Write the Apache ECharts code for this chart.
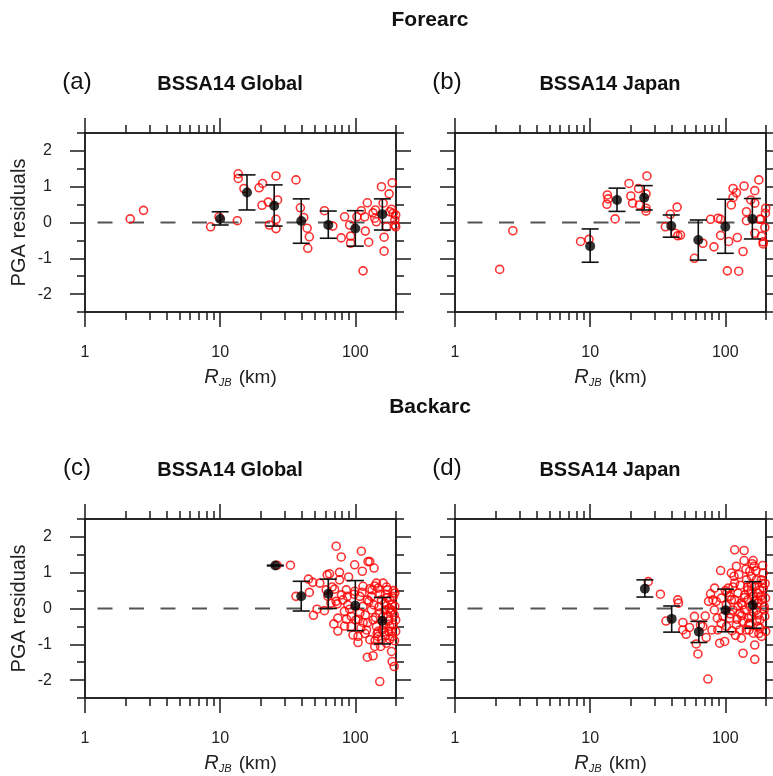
<!DOCTYPE html>
<html>
<head>
<meta charset="utf-8">
<script src="https://cdn.jsdelivr.net/npm/echarts@6/dist/echarts.min.js"></script>
<style>
html, body { margin: 0; padding: 0; background: #fff; }
#chart { width: 773px; height: 776px; }
</style>
</head>
<body>
<div id="chart"></div>
<script>
// tick values
var majorX = [1, 10, 100];
var minorX = [2, 3, 4, 5, 6, 7, 8, 9, 20, 30, 40, 50, 60, 70, 80, 90, 200];
var majorY = [-2, -1, 0, 1, 2];
var minorY = [-2.5, -1.5, -0.5, 0.5, 1.5, 2.5];
var zeroLine = [[200, 0], [1, 0]];

// (a) Forearc, BSSA14 Global
var aR = [2.16, 2.71, 8.5, 9.8, 13.4, 13.6, 13.6, 15.0, 19.4, 20.6, 20.4, 22.7, 23.1, 25.9, 26.6, 25.9, 25.9, 36.4, 39.2, 41.5,
  44.0, 45.7, 44.5, 59.1, 68.2, 78.7, 83.3, 90.8, 92.3, 92.3, 102.8, 110.8, 114.1, 117.3, 118.6, 122.7, 125.6, 135.3, 140.8, 139.3,
  156.1, 160.6, 163.3, 163.3, 170.2, 178.0, 185.3, 187.5, 190.6, 196.0, 199, 199, 180, 196, 143];
var aRes = [0.10, 0.34, -0.12, 0.16, 0.05, 1.36, 1.23, 0.95, 0.97, 1.09, 0.48, 0.57, -0.07, 1.30, 0.63, 0.09, -0.17, 1.19, 0.41, 0.14,
  -0.16, -0.40, -0.72, 0.33, -0.10, -0.43, 0.16, -0.07, -0.38, -0.58, 0.16, 0.33, -1.35, 0.16, -0.24, 0.55, -0.55, 0.27, 0.35, 0.12,
  1.00, 0.54, -0.41, -0.80, -0.12, 0.80, 0.37, 1.11, 0.26, 0.07, 0.21, -0.12, 0.30, -0.07, 0.02];
var aBin = [10, 15.8, 25.1, 39.8, 63.1, 100, 158.5];
var aMean = [0.10, 0.84, 0.47, 0.04, -0.07, -0.17, 0.23];
var aHi = [0.30, 1.33, 1.05, 0.66, 0.32, 0.33, 0.66];
var aLo = [-0.07, 0.35, -0.10, -0.58, -0.44, -0.66, -0.21];

// (b) Forearc, BSSA14 Japan
var bR = [2.14, 2.68, 8.5, 9.8, 13.4, 13.6, 13.3, 15.3, 19.4, 20.0, 20.6, 22.8, 23.1, 26.3, 25.9, 25.9, 25.9, 39.2, 36.0, 44.0,
  42.5, 44.5, 46.6, 59.1, 68.2, 77.8, 82.4, 88.2, 92.3, 92.3, 103.5, 105.9, 110.8, 114.1, 114.1, 120.8, 122.7, 125.6, 135.3, 137.7,
  143.3, 143.3, 154.3, 165.2, 165.2, 165.2, 177.0, 183.2, 185.3, 190.6, 196, 198, 199, 190.6, 180];
var bRes = [-1.31, -0.23, -0.53, -0.47, 0.77, 0.66, 0.51, 0.10, 1.09, 0.74, 0.54, 0.95, 0.49, 1.30, 0.80, 0.40, 0.32, 0.23, -0.12, 0.43,
  -0.30, -0.37, -0.35, -1.00, -0.58, 0.09, -0.68, 0.12, 0.09, -0.36, -1.35, -0.53, 0.49, 0.70, 0.95, 0.83, -0.42, -1.36, -0.81, 1.02,
  0.30, 0.05, 0.63, 0.89, 0.54, -0.30, 1.19, 0.09, -0.38, -0.54, -0.14, 0.26, 0.40, -0.60, 0.09];
var bBin = [10, 15.8, 25.1, 39.8, 63.1, 100, 158.5];
var bMean = [-0.66, 0.63, 0.69, -0.10, -0.49, -0.12, 0.10];
var bHi = [-0.18, 0.96, 1.03, 0.21, 0.07, 0.65, 0.67];
var bLo = [-1.11, 0.31, 0.35, -0.41, -1.05, -0.86, -0.46];

// (c) Backarc, BSSA14 Global
var cR = [26.3, 33.1, 36.4, 45.0, 45.7, 48.5, 49.0, 52.1, 54.6, 59.1, 61.9, 64.4, 62.7, 60.9, 67.4, 70.2, 72.2, 78.7, 76.4, 76.4,
  73.5, 74.3, 69.4, 74.3, 80.9, 83.3, 85.7, 87.3, 89.2, 90.8, 93.4, 98.9, 96.1, 104.7, 104.7, 110.8, 112.7, 114.1, 118.6, 122.7,
  122.7, 124.2, 127.9, 131.5, 135.3, 137.7, 139.3, 139.3, 143.3, 147.5, 151.7, 156.1, 160.6, 165.2, 170.2, 173.0, 177.0, 180.0, 185.3, 187.5,
  193.8, 190.6, 196, 199, 199, 131.5, 135.3, 143.3, 147.5, 151.7, 156.1, 162, 166, 175, 180, 185, 188, 194, 114, 121,
  128, 108, 101, 93, 88, 83, 79, 99, 108, 114, 147.5, 160.6, 180, 196, 154, 170, 185,
  105, 112, 118, 126, 133, 141, 150, 158, 167, 176, 186, 195, 110, 123, 137, 145, 163, 172, 183, 192,
  128, 140, 152, 168, 178, 190, 98, 86, 72, 66];
var cRes = [1.21, 1.21, 0.34, 0.82, 0.45, 0.73, -0.19, -0.02, 0.71, -0.06, 0.94, 0.97, 0.34, 0.52, 0.60, 0.54, 1.74, 1.44, 1.01, 0.80,
  0.13, -0.27, -0.43, -0.63, 0.24, -0.49, 0.52, 0.34, 0.88, -0.02, -0.22, 1.22, -0.74, -0.78, -0.95, 1.60, 1.04, -0.39, -0.18, 0.24,
  -1.36, 1.31, 1.31, 0.34, -1.32, 1.13, 0.63, -1.06, 0.71, -0.64, -2.04, 0.24, -0.22, 0.15, 0.60, 0.52, -0.64, -0.86, -1.20, -1.48,
  -1.62, 0.34, 0.06, -0.64, -0.32, -0.04, -0.32, -0.50, -0.78, -0.13, -0.87, -0.46, -0.04, -0.22, -0.50, -0.04, -0.78, -0.18, 0.06, -0.60,
  -0.87, -0.13, -0.32, -0.50, 0.10, -0.08, 0.38, 0.48, 0.34, 0.62, 0.57, 0.71, 0.24, 0.43, -1.06, -0.97, -0.64,
  -0.30, 0.45, -0.70, 0.20, 0.52, -0.25, 0.05, -0.60, 0.40, -0.35, 0.10, -0.90, -0.55, -0.40, 0.10, -0.70, -0.65, 0.30, -0.10, 0.50,
  0.55, -0.90, 0.40, -0.75, 0.00, -0.45, 0.40, -0.30, 0.20, 0.15];
var cBin = [25.6, 39.8, 63.1, 100, 158.5];
var cMean = [1.20, 0.34, 0.41, 0.08, -0.34];
var cHi = [1.21, 0.76, 0.82, 0.78, 0.31];
var cLo = [1.19, -0.07, 0.00, -0.62, -0.99];

// (d) Backarc, BSSA14 Japan
var dR = [26.9, 33.1, 36.4, 44.5, 45.0, 48.5, 48.5, 51.3, 54.3, 59.1, 60.9, 62.7, 65.6, 68.2, 71.0, 72.2, 74.3, 75.2, 77.8, 79.6,
  83.3, 85.7, 87.3, 90.8, 92.3, 93.4, 96.1, 98.9, 101.7, 107.7, 110.8, 114.1, 117.3, 117.3, 120.8, 120.8, 124.2, 127.9, 131.5, 135.3,
  137.7, 137.7, 139.3, 143.3, 147.5, 151.7, 156.1, 160.6, 163.3, 165.2, 165.2, 170.2, 175.0, 180.0, 185.3, 190.6, 193.8, 198.3, 199,
  117, 124, 131, 139, 147, 152, 156, 161, 165, 170, 175, 180, 185, 191, 196, 128, 135, 143, 152, 161,
  170, 175, 185, 114, 108, 102, 93, 88, 83, 81, 105, 111, 156, 147,
  103, 109, 116, 122, 129, 134, 142, 149, 155, 162, 168, 174, 181, 188, 194, 119, 132, 146, 158, 171,
  183, 197, 112, 126, 138, 150, 164, 177, 189, 100];
var dRes = [0.75, 0.40, -0.35, 0.24, 0.15, -0.39, -0.60, -0.72, -0.53, -0.22, -0.99, -1.27, -0.46, -0.50, -0.21, -0.81, -1.97, 0.20, 0.41, -0.60,
  0.57, 0.20, -0.27, -0.97, 1.06, 0.29, -0.22, -0.92, 0.10, 0.34, 0.99, 0.60, 1.64, 0.71, 1.18, -0.46, 0.06, -0.60, -0.83, -1.25,
  1.62, 1.34, 0.38, 0.80, -0.27, 1.04, 0.63, 1.34, 1.18, -1.02, -1.42, 0.24, -0.18, 0.52, -0.78, 0.99, -0.04, 0.29, -0.64,
  0.24, 0.43, 0.15, -0.04, 0.24, 0.06, -0.22, 0.34, 0.62, -0.04, 0.43, -0.32, 0.24, 0.57, -0.22, -0.13, -0.36, -0.60, -0.41, -0.69,
  0.80, -0.50, 0.80, -0.04, -0.27, -0.50, -0.41, -0.60, -0.04, 0.24, 0.57, 0.24, 0.90, 0.52,
  0.45, -0.15, 0.90, -0.30, 0.65, 0.10, 1.10, -0.45, 0.48, -0.10, 1.05, 0.15, -0.55, 0.70, 0.05, -0.75, -0.20, 0.60, 1.25, -0.35,
  0.35, 0.70, -0.62, 0.95, 0.30, -0.60, 0.20, -0.70, 1.20, 0.50];
var dBin = [25.4, 40.1, 63.7, 100.5, 159.6];
var dMean = [0.55, -0.29, -0.65, -0.05, 0.10];
var dHi = [0.80, 0.07, -0.36, 0.54, 0.75];
var dLo = [0.32, -0.66, -0.95, -0.65, -0.55];

var panels = [
  { r: aR, res: aRes, bin: aBin, mean: aMean, hi: aHi, lo: aLo, left: 85, top: 133, yLabels: true },
  { r: bR, res: bRes, bin: bBin, mean: bMean, hi: bHi, lo: bLo, left: 455, top: 133, yLabels: false },
  { r: cR, res: cRes, bin: cBin, mean: cMean, hi: cHi, lo: cLo, left: 85, top: 519, yLabels: true },
  { r: dR, res: dRes, bin: dBin, mean: dMean, hi: dHi, lo: dLo, left: 455, top: 519, yLabels: false }
];

var font = 'Liberation Sans, Arial, Helvetica, sans-serif';
var lineCol = '#1a1a1a';

var grids = [], xAxes = [], yAxes = [], series = [];

function zip(xs, ys) {
  return xs.map(function (v, i) { return [v, ys[i]]; });
}

panels.forEach(function (p, g) {
  grids.push({ left: p.left, top: p.top, width: 311, height: 179 });
  // x axes: bottom major, bottom minor, top major, top minor
  [['bottom', majorX, 15, true], ['bottom', minorX, 8, false], ['top', majorX, 15, false], ['top', minorX, 8, false]].forEach(function (a) {
    xAxes.push({
      type: 'log', logBase: 10, min: 1, max: 200, gridIndex: g, position: a[0],
      axisLine: { show: true, onZero: false, lineStyle: { color: lineCol, width: 1.5 } },
      axisTick: { show: true, inside: false, length: a[2], customValues: a[1], lineStyle: { color: lineCol, width: 1.5 } },
      axisLabel: a[3] ? { show: true, customValues: majorX, margin: 33, fontSize: 16, color: '#222', fontFamily: font } : { show: false },
      splitLine: { show: false },
      name: a[3] ? '{r|R}{s|JB} (km)' : '',
      nameLocation: 'middle', nameGap: 55,
      nameTextStyle: {
        fontSize: 19, color: '#222', fontFamily: font,
        rich: {
          r: { fontSize: 20, fontStyle: 'italic', color: '#222', fontFamily: font },
          s: { fontSize: 11, fontStyle: 'italic', color: '#222', fontFamily: font, padding: [10, 2, 0, 0] }
        }
      }
    });
  });
  // y axes: left major, left minor, right major, right minor
  [['left', majorY, 15, p.yLabels], ['left', minorY, 8, false], ['right', majorY, 15, false], ['right', minorY, 8, false]].forEach(function (a, k) {
    yAxes.push({
      type: 'value', min: -2.5, max: 2.5, interval: 0.5, gridIndex: g, position: a[0],
      axisLine: { show: true, onZero: false, lineStyle: { color: lineCol, width: 1.5 } },
      axisTick: { show: true, inside: false, length: a[2], customValues: a[1], lineStyle: { color: lineCol, width: 1.5 } },
      axisLabel: a[3] ? { show: true, customValues: majorY, margin: 33, fontSize: 16, color: '#222', fontFamily: font } : { show: false },
      splitLine: { show: false },
      name: (k === 0 && p.yLabels) ? 'PGA residuals' : '',
      nameLocation: 'middle', nameGap: 56, nameRotate: 90,
      nameTextStyle: { fontSize: 20, color: '#222', fontFamily: font }
    });
  });
  var xi = g * 4, yi = g * 4;
  series.push({
    type: 'line', xAxisIndex: xi, yAxisIndex: yi, z: 1, silent: true,
    data: zeroLine, showSymbol: false, symbol: 'none',
    lineStyle: { color: '#555', width: 2, type: [15, 16.5], dashOffset: 0 }
  });
  series.push({
    type: 'scatter', xAxisIndex: xi, yAxisIndex: yi, z: 2,
    data: zip(p.r, p.res), symbol: 'circle', symbolSize: 8,
    itemStyle: { color: 'rgba(0,0,0,0)', borderColor: '#ff0000', borderWidth: 1.6 }
  });
  series.push({
    type: 'custom', xAxisIndex: xi, yAxisIndex: yi, z: 3,
    data: p.bin.map(function (v, i) { return [v, p.lo[i], p.hi[i]]; }),
    encode: { x: 0, y: [1, 2] },
    renderItem: function (params, api) {
      var top = api.coord([api.value(0), api.value(2)]);
      var bot = api.coord([api.value(0), api.value(1)]);
      var w = 8.5;
      var st = { stroke: '#111', lineWidth: 1.6, fill: null };
      return {
        type: 'group', children: [
          { type: 'line', shape: { x1: top[0], y1: top[1], x2: bot[0], y2: bot[1] }, style: st },
          { type: 'line', shape: { x1: top[0] - w, y1: top[1], x2: top[0] + w, y2: top[1] }, style: st },
          { type: 'line', shape: { x1: bot[0] - w, y1: bot[1], x2: bot[0] + w, y2: bot[1] }, style: st }
        ]
      };
    }
  });
  series.push({
    type: 'scatter', xAxisIndex: xi, yAxisIndex: yi, z: 4,
    data: zip(p.bin, p.mean), symbol: 'circle', symbolSize: 10,
    itemStyle: { color: '#000' }
  });
});

function txt(t, x, y, size, bold) {
  return {
    type: 'text', x: x, y: y, z: 10,
    style: { text: t, fontSize: size, fontWeight: bold ? 'bold' : 'normal', fontFamily: font, fill: '#111', align: 'center', verticalAlign: 'middle' }
  };
}

var chart = echarts.init(document.getElementById('chart'));
chart.setOption({
  backgroundColor: '#fff',
  animation: false,
  grid: grids,
  xAxis: xAxes,
  yAxis: yAxes,
  series: series,
  graphic: [
    txt('Forearc', 430, 20, 21, true),
    txt('(a)', 77, 82, 24, false),
    txt('BSSA14 Global', 230, 84, 20, true),
    txt('(b)', 447, 82, 24, false),
    txt('BSSA14 Japan', 610, 84, 20, true),
    txt('Backarc', 430, 407, 21, true),
    txt('(c)', 77, 468, 24, false),
    txt('BSSA14 Global', 230, 470, 20, true),
    txt('(d)', 447, 468, 24, false),
    txt('BSSA14 Japan', 610, 470, 20, true)
  ]
});
</script>
</body>
</html>
